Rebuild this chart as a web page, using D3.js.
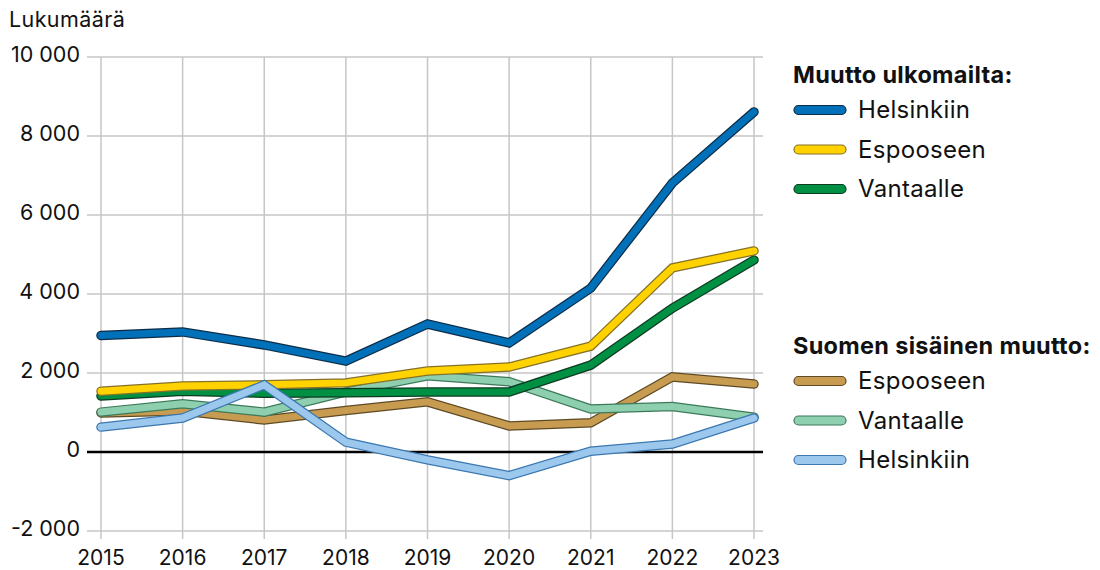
<!DOCTYPE html>
<html>
<head>
<meta charset="utf-8">
<script src="https://cdn.jsdelivr.net/npm/d3@7"></script>
<style>
  html, body { margin: 0; padding: 0; background: #fff; }
  svg text { font-family: Inter, "Noto Sans", sans-serif; fill: #111; }
</style>
</head>
<body>
<div id="chart"></div>
<script>
// data
const years = [2015, 2016, 2017, 2018, 2019, 2020, 2021, 2022, 2023];
const yTicks = [-2000, 0, 2000, 4000, 6000, 8000, 10000];

const abroadHelsinki = [2950, 3040, 2710, 2300, 3240, 2760, 4150, 6810, 8610];
const abroadEspoo    = [1540, 1670, 1700, 1750, 2050, 2150, 2680, 4660, 5090];
const abroadVantaa   = [1420, 1540, 1490, 1500, 1520, 1520, 2200, 3640, 4860];
const domesticEspoo    = [990, 1040, 810, 1050, 1270, 660, 740, 1900, 1720];
const domesticVantaa   = [1010, 1220, 1010, 1520, 1930, 1780, 1090, 1150, 880];
const domesticHelsinki = [630, 860, 1700, 250, -200, -600, 20, 200, 860];

const groupTitles = ['Muutto ulkomailta:', 'Suomen sisäinen muutto:'];

const series = [
  { name: 'Espooseen', group: 1, values: domesticEspoo, color: '#c89c50', edge: '#5e4a26' },
  { name: 'Vantaalle', group: 1, values: domesticVantaa, color: '#8ecfaf', edge: '#3d7a5c' },
  { name: 'Vantaalle', group: 0, values: abroadVantaa, color: '#009043', edge: '#0c3b21' },
  { name: 'Espooseen', group: 0, values: abroadEspoo, color: '#ffd200', edge: '#857229' },
  { name: 'Helsinkiin', group: 0, values: abroadHelsinki, color: '#0070b8', edge: '#0d2c47' },
  { name: 'Helsinkiin', group: 1, values: domesticHelsinki, color: '#9dc8ee', edge: '#3b78b0' }
];

const width = 1100, height = 570;
const margin = { top: 57, right: 346, bottom: 39, left: 101 };

const svg = d3.select('#chart').append('svg')
  .attr('width', width)
  .attr('height', height);

const x = d3.scaleLinear()
  .domain([years[0], years[years.length - 1]])
  .range([margin.left, width - margin.right]);

const y = d3.scaleLinear()
  .domain([-2000, 10000])
  .range([height - margin.bottom, margin.top]);

// "10 000", "-2 000"
const fmt = v => d3.format(',')(Math.abs(v)).replace(/,/g, ' ').replace(/^/, v < 0 ? '-' : '');

// grid
svg.append('g')
  .selectAll('line')
  .data(years)
  .join('line')
  .attr('x1', d => x(d)).attr('x2', d => x(d))
  .attr('y1', y(10000)).attr('y2', y(-2000) + 8)
  .attr('stroke', '#c6c6c6').attr('stroke-width', 1.5);

svg.append('g')
  .selectAll('line')
  .data(yTicks.filter(d => d !== 0))
  .join('line')
  .attr('x1', 87).attr('x2', x(2023) + 9)
  .attr('y1', d => y(d)).attr('y2', d => y(d))
  .attr('stroke', '#c6c6c6').attr('stroke-width', 1.5);

svg.append('line')
  .attr('x1', 87).attr('x2', x(2023) + 9)
  .attr('y1', y(0)).attr('y2', y(0))
  .attr('stroke', '#000').attr('stroke-width', 2.5);

// axis labels
svg.append('g')
  .selectAll('text')
  .data(yTicks)
  .join('text')
  .attr('x', 80)
  .attr('y', d => y(d) + 5)
  .attr('text-anchor', 'end')
  .attr('font-size', 21.5)
  .text(d => fmt(d));

svg.append('g')
  .selectAll('text')
  .data(years)
  .join('text')
  .attr('x', d => x(d))
  .attr('y', 565)
  .attr('text-anchor', 'middle')
  .attr('font-size', 21)
  .text(d => d);

svg.append('text')
  .attr('x', 9).attr('y', 27)
  .attr('font-size', 21.5)
  .attr('letter-spacing', 0.4)
  .text('Lukumäärä');

// lines
const line = d3.line()
  .x((d, i) => x(years[i]))
  .y(d => y(d));

const lines = svg.append('g');
series.forEach(s => {
  lines.append('path')
    .attr('d', line(s.values))
    .attr('fill', 'none')
    .attr('stroke', s.edge)
    .attr('stroke-width', 9.5)
    .attr('stroke-linecap', 'round')
    .attr('stroke-linejoin', 'miter');
  lines.append('path')
    .attr('d', line(s.values))
    .attr('fill', 'none')
    .attr('stroke', s.color)
    .attr('stroke-width', 7)
    .attr('stroke-linecap', 'round')
    .attr('stroke-linejoin', 'miter');
});

// legend
const legendTop = [83, 354];
const legendOrder = [
  [series[4], series[3], series[2]],
  [series[0], series[1], series[5]]
];

legendOrder.forEach((items, g) => {
  const lg = svg.append('g');
  lg.append('text')
    .attr('x', 793).attr('y', legendTop[g])
    .attr('font-size', 23.5)
    .attr('font-weight', 700)
    .attr('letter-spacing', 0.3)
    .text(groupTitles[g]);
  items.forEach((s, i) => {
    const cy = legendTop[g] + 27 + i * 39.5;
    lg.append('rect')
      .attr('x', 794).attr('y', cy - 4.5)
      .attr('width', 52).attr('height', 9)
      .attr('rx', 4.5)
      .attr('fill', s.color)
      .attr('stroke', s.edge)
      .attr('stroke-width', 1.2);
    lg.append('text')
      .attr('x', 858).attr('y', cy + 8)
      .attr('font-size', 24)
      .attr('letter-spacing', 0.3)
      .text(s.name);
  });
});
</script>
</body>
</html>
